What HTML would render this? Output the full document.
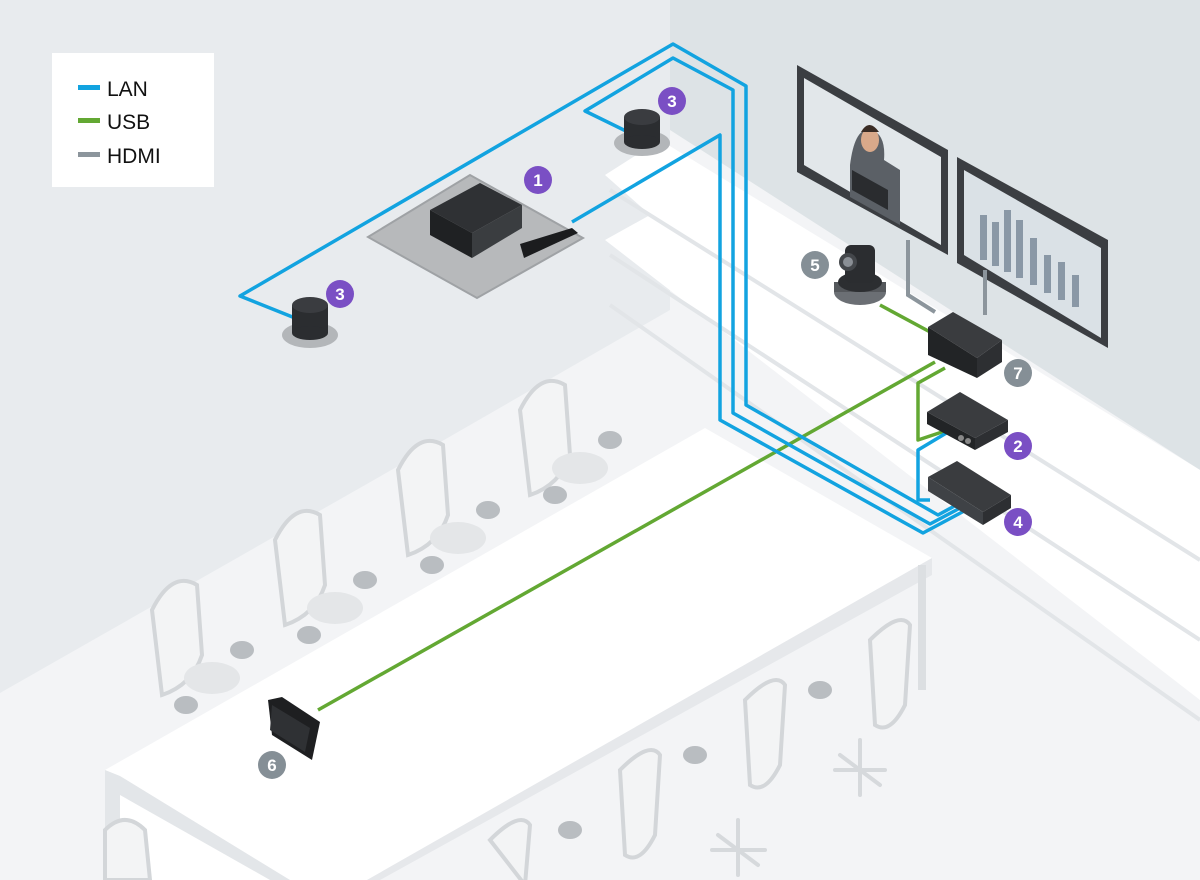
<!DOCTYPE html>
<html><head><meta charset="utf-8"><style>
html,body{margin:0;padding:0;background:#fff}
svg{display:block}
text{font-family:"Liberation Sans",sans-serif}
</style></head><body>
<svg width="1200" height="880" viewBox="0 0 1200 880" xmlns="http://www.w3.org/2000/svg">
<rect width="1200" height="880" fill="#f3f4f6"/>
<polygon points="0,0 670,0 670,310 444,440 0,693" fill="#e8ebee"/>
<polygon points="670,0 1200,0 1200,470 670,130" fill="#dde3e6"/>
<polygon points="605,175 660,140 1200,470 1200,700" fill="#ffffff"/>
<polygon points="605,240 650,215 1200,560 1200,700 " fill="#ffffff"/>
<g stroke="#e2e5e8" stroke-width="4" fill="none">
<line x1="610" y1="190" x2="1200" y2="560"/>
<line x1="610" y1="255" x2="1200" y2="640"/>
<line x1="610" y1="305" x2="1200" y2="720"/>
</g>
<!-- chairs back row -->
<g fill="#f3f4f5" stroke="#d3d6d9" stroke-width="4">
<path d="M520,410 q20,-40 45,-25 l5,70 q-10,30 -40,40 z"/>
<path d="M398,470 q20,-40 45,-25 l5,70 q-10,30 -40,40 z"/>
<path d="M275,540 q20,-40 45,-25 l5,70 q-10,30 -40,40 z"/>
<path d="M152,610 q20,-40 45,-25 l5,70 q-10,30 -40,40 z"/>
</g>
<g fill="#e4e6e8">
<ellipse cx="580" cy="468" rx="28" ry="16"/><ellipse cx="458" cy="538" rx="28" ry="16"/>
<ellipse cx="335" cy="608" rx="28" ry="16"/><ellipse cx="212" cy="678" rx="28" ry="16"/>
</g>
<g fill="#b9bdc1">
<ellipse cx="610" cy="440" rx="12" ry="9"/><ellipse cx="488" cy="510" rx="12" ry="9"/>
<ellipse cx="365" cy="580" rx="12" ry="9"/><ellipse cx="242" cy="650" rx="12" ry="9"/>
<ellipse cx="555" cy="495" rx="12" ry="9"/><ellipse cx="432" cy="565" rx="12" ry="9"/>
<ellipse cx="309" cy="635" rx="12" ry="9"/><ellipse cx="186" cy="705" rx="12" ry="9"/>
</g>
<!-- table -->
<polygon points="105,770 705,428 932,558 367,880 105,880" fill="#ffffff"/>
<polygon points="932,558 932,575 380,880 367,880" fill="#e6e8eb"/>
<polygon points="105,770 120,776 120,880 105,880" fill="#e3e6e9"/>
<polygon points="120,776 290,880 270,880 120,795" fill="#e3e6e9"/>
<rect x="918" y="565" width="8" height="125" fill="#dcdfe2"/>
<!-- front chairs -->
<g fill="#f3f4f5" stroke="#d3d6d9" stroke-width="4">
<path d="M870,640 q30,-30 40,-15 l-5,80 q-15,30 -30,20 z"/>
<path d="M745,700 q30,-30 40,-15 l-5,80 q-15,30 -30,20 z"/>
<path d="M620,770 q30,-30 40,-15 l-5,80 q-15,30 -30,20 z"/>
<path d="M490,840 q30,-30 40,-15 l-5,60 z"/>
<path d="M105,830 q20,-20 40,0 l5,50 l-45,0 z"/>
</g>
<g fill="#b9bdc1">
<ellipse cx="820" cy="690" rx="12" ry="9"/><ellipse cx="695" cy="755" rx="12" ry="9"/>
<ellipse cx="570" cy="830" rx="12" ry="9"/>
</g>
<g stroke="#d6d9dc" stroke-width="4" stroke-linecap="round">
<line x1="860" y1="740" x2="860" y2="795"/><line x1="835" y1="770" x2="885" y2="770"/><line x1="840" y1="755" x2="880" y2="785"/>
<line x1="738" y1="820" x2="738" y2="875"/><line x1="712" y1="850" x2="765" y2="850"/><line x1="718" y1="835" x2="758" y2="865"/>
</g>
<!-- monitors -->
<polygon points="797,65 948,150 948,255 797,172" fill="#3b3e42"/>
<polygon points="804,78 941,157 941,245 804,165" fill="#e2e7ea"/>
<path d="M850,165 q5,-40 22,-35 q14,5 12,30 l16,10 l0,55 l-50,-28z" fill="#5b6066"/>
<ellipse cx="870" cy="140" rx="9" ry="12" fill="#d9a98a"/>
<path d="M861,132 q8,-14 18,0 z" fill="#3a2c25"/>
<polygon points="852,170 888,190 888,210 852,190" fill="#2a2c2f"/>
<polygon points="957,157 1108,240 1108,348 957,263" fill="#3b3e42"/>
<polygon points="964,170 1101,248 1101,338 964,255" fill="#dae1e6"/>
<g fill="#8a98a6">
<rect x="980" y="215" width="7" height="45"/><rect x="992" y="222" width="7" height="44"/>
<rect x="1004" y="210" width="7" height="62"/><rect x="1016" y="220" width="7" height="58"/>
<rect x="1030" y="238" width="7" height="47"/><rect x="1044" y="255" width="7" height="38"/>
<rect x="1058" y="262" width="7" height="38"/><rect x="1072" y="275" width="7" height="32"/>
</g>
<g stroke="#8c959c" stroke-width="4" fill="none">
<path d="M908,240 L908,295 L935,312"/>
<path d="M985,270 L985,315"/>
</g>
<g stroke="#63a833" stroke-width="3.5" fill="none" stroke-linejoin="round">
<path d="M880,305 L932,333"/>
<path d="M318,710 L935,362"/>
<path d="M945,368 L918,383 L918,440 L948,430"/>
</g>
<g stroke="#12a3e0" stroke-width="3.5" fill="none" stroke-linejoin="round">
<path d="M300,320 L240,296 L673,44 L746,86 L746,405 L938,515 L960,503"/>
<path d="M630,133 L585,111 L673,58 L733,90 L733,413 L930,524 L962,507"/>
<path d="M572,222 L720,135 L720,420 L923,533 L966,510"/>
<path d="M948,432 L918,450 L918,500 L930,500"/>
</g>
<!-- codec 1 -->
<polygon points="368,237 470,175 583,238 477,298" fill="#b7b9bb" stroke="#9fa2a5" stroke-width="2"/>
<polygon points="430,210 480,183 522,205 472,233" fill="#2f3134"/>
<polygon points="430,210 472,233 472,258 430,235" fill="#1f2123"/>
<polygon points="472,233 522,205 522,228 472,258" fill="#3a3d40"/>
<polygon points="520,244 572,228 578,233 524,258" fill="#1b1c1e"/>
<!-- speakers -->
<ellipse cx="310" cy="335" rx="28" ry="13" fill="#b3b6b9"/>
<rect x="292" y="305" width="36" height="28" fill="#2b2d30"/>
<ellipse cx="310" cy="333" rx="18" ry="7" fill="#2b2d30"/>
<ellipse cx="310" cy="305" rx="18" ry="8" fill="#3a3c40"/>
<ellipse cx="642" cy="143" rx="28" ry="13" fill="#b3b6b9"/>
<rect x="624" y="117" width="36" height="25" fill="#2b2d30"/>
<ellipse cx="642" cy="142" rx="18" ry="7" fill="#2b2d30"/>
<ellipse cx="642" cy="117" rx="18" ry="8" fill="#3a3c40"/>
<!-- camera -->
<ellipse cx="860" cy="292" rx="26" ry="13" fill="#6b6f74"/>
<rect x="834" y="282" width="52" height="10" fill="#55585c"/>
<ellipse cx="860" cy="282" rx="22" ry="10" fill="#2c2e31"/>
<rect x="845" y="245" width="30" height="38" rx="6" fill="#2b2d30"/>
<circle cx="848" cy="262" r="9" fill="#44474b"/><circle cx="848" cy="262" r="5" fill="#8a8f95"/>
<!-- devices -->
<polygon points="928,327 953,312 1002,340 977,358" fill="#3a3c3f"/>
<polygon points="928,327 977,358 977,378 928,355" fill="#222426"/>
<polygon points="977,358 1002,340 1002,362 977,378" fill="#2d2f32"/>
<polygon points="927,412 960,392 1008,420 975,438" fill="#3a3c3f"/>
<polygon points="927,412 975,438 975,450 927,424" fill="#222426"/>
<polygon points="975,438 1008,420 1008,432 975,450" fill="#2d2f32"/>
<circle cx="961" cy="438" r="3" fill="#888"/><circle cx="968" cy="441" r="3" fill="#888"/>
<polygon points="928,477 957,461 1011,495 983,512" fill="#3a3c3f"/>
<polygon points="928,477 983,512 983,525 928,491" fill="#3f4246"/>
<polygon points="983,512 1011,495 1011,508 983,525" fill="#2d2f32"/>
<!-- tablet -->
<polygon points="268,700 282,697 320,722 312,760 272,735" fill="#1e1f21"/>
<polygon points="272,705 310,728 305,752 270,730" fill="#2f3134"/>
<g font-size="17" font-weight="bold" fill="#fff" text-anchor="middle">
<circle cx="538" cy="180" r="14" fill="#7a4fc4"/><text x="538" y="186">1</text>
<circle cx="672" cy="101" r="14" fill="#7a4fc4"/><text x="672" y="107">3</text>
<circle cx="340" cy="294" r="14" fill="#7a4fc4"/><text x="340" y="300">3</text>
<circle cx="1018" cy="446" r="14" fill="#7a4fc4"/><text x="1018" y="452">2</text>
<circle cx="1018" cy="522" r="14" fill="#7a4fc4"/><text x="1018" y="528">4</text>
<circle cx="815" cy="265" r="14" fill="#858f96"/><text x="815" y="271">5</text>
<circle cx="1018" cy="373" r="14" fill="#858f96"/><text x="1018" y="379">7</text>
<circle cx="272" cy="765" r="14" fill="#858f96"/><text x="272" y="771">6</text>
</g>
<rect x="52" y="53" width="162" height="134" fill="#ffffff"/>
<rect x="78" y="85" width="22" height="5" fill="#12a3e0"/>
<rect x="78" y="118" width="22" height="5" fill="#63a833"/>
<rect x="78" y="152" width="22" height="5" fill="#8c959c"/>
<g font-size="21" fill="#111">
<text x="107" y="96">LAN</text>
<text x="107" y="129">USB</text>
<text x="107" y="163">HDMI</text>
</g>
</svg>
</body></html>
